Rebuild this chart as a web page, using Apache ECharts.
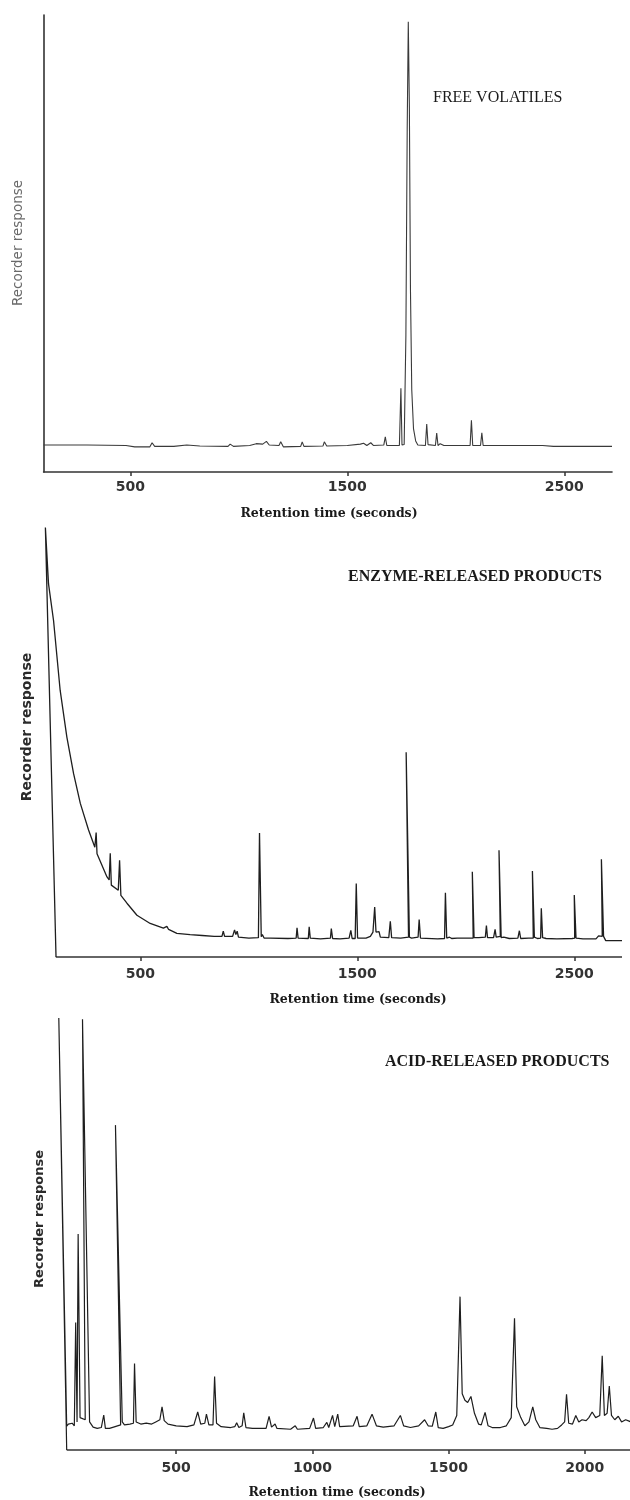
<!DOCTYPE html>
<html>
<head>
<meta charset="utf-8">
<title>Gas chromatograms</title>
<script src="https://cdn.jsdelivr.net/npm/echarts@6.0.0/dist/echarts.min.js"></script>
<style>
  html, body { margin: 0; padding: 0; background: #fff; }
  #chart { width: 630px; height: 1500px; }
</style>
</head>
<body>
<div id="chart"></div>
<script>
// Free volatiles: retention time (s) and recorder response (% of full scale)
const freeTime = [100, 300, 480, 520, 590, 600, 612, 700, 760, 820, 950, 960, 975, 1050, 1080, 1110, 1127, 1140,
  1185, 1193, 1205, 1285, 1292, 1300, 1388, 1394, 1405, 1500, 1560, 1575, 1590, 1608, 1620, 1668, 1675, 1682,
  1740, 1747, 1752, 1762, 1770, 1776, 1781, 1786, 1791, 1797, 1805, 1815, 1825, 1860, 1866, 1872, 1906, 1912,
  1918, 1928, 1945, 2066, 2072, 2078, 2114, 2120, 2126, 2400, 2450, 2720];
const freeResp = [5.9, 5.9, 5.8, 5.5, 5.5, 6.4, 5.6, 5.6, 5.9, 5.7, 5.6, 6.1, 5.6, 5.8, 6.2, 6.1, 6.7, 5.9,
  5.8, 6.6, 5.5, 5.6, 6.6, 5.6, 5.7, 6.6, 5.7, 5.8, 6.1, 6.3, 5.8, 6.4, 5.8, 5.9, 7.7, 5.8,
  5.8, 18.3, 5.9, 6.0, 30, 75, 98.5, 80, 40, 18, 9.5, 6.8, 5.9, 5.8, 10.5, 6.0, 5.8, 8.5,
  5.8, 6.2, 5.8, 5.8, 11.3, 5.8, 5.8, 8.6, 5.8, 5.8, 5.6, 5.6];

// Enzyme-released products (solvent front, decay, then peaks)
const enzymeTime = [111, 62, 76.5, 99.6, 130, 161, 192, 223, 261, 290, 296, 300, 346, 356, 361, 366, 398, 404,
  410, 438, 484, 545, 606, 622, 630, 668, 729, 785, 840, 876, 882, 888, 925, 934, 940, 946, 952, 1000,
  1044, 1049, 1057, 1062, 1070, 1100, 1180, 1218, 1222, 1227, 1274, 1278, 1283, 1330, 1376, 1380, 1386,
  1420, 1462, 1470, 1476, 1490, 1495, 1501, 1540, 1560, 1572, 1580, 1586, 1592, 1600, 1606, 1645, 1652,
  1658, 1700, 1736, 1725, 1740, 1750, 1780, 1785, 1791, 1870, 1902, 1906, 1912, 1925, 1935, 1960, 2034,
  2030, 2038, 2060, 2090, 2095, 2100, 2128, 2135, 2140, 2159, 2153, 2163, 2175, 2200, 2240, 2247, 2253,
  2290, 2311, 2307, 2316, 2330, 2345, 2348, 2354, 2370, 2420, 2490, 2502, 2500, 2508, 2540, 2600, 2612,
  2618, 2629, 2625, 2635, 2645, 2720];
const enzymeResp = [0, 99.8, 86.7, 78.2, 62, 51.1, 42.6, 35.7, 29.5, 25.5, 28.9, 24.0, 18.6, 17.9, 24.1, 16.7, 15.5, 22.5,
  14.3, 12.5, 9.7, 7.8, 6.7, 7.1, 6.4, 5.5, 5.2, 5.0, 4.8, 4.8, 6.0, 4.8, 4.8, 6.3, 5.2, 6.0, 4.6, 4.4,
  4.5, 28.8, 4.7, 5.2, 4.4, 4.4, 4.3, 4.4, 6.8, 4.4, 4.3, 7.0, 4.4, 4.2, 4.4, 6.6, 4.3,
  4.2, 4.4, 6.2, 4.3, 4.3, 17.1, 4.4, 4.4, 4.8, 5.8, 11.6, 5.8, 5.4, 5.9, 4.6, 4.5, 8.3,
  4.5, 4.4, 4.6, 47.6, 4.6, 4.4, 4.6, 8.7, 4.4, 4.2, 4.3, 14.9, 4.4, 4.6, 4.3, 4.4, 4.4,
  19.8, 4.5, 4.5, 4.6, 7.3, 4.5, 4.5, 6.4, 4.6, 4.8, 24.8, 4.5, 4.6, 4.3, 4.4, 6.1, 4.3,
  4.4, 4.4, 20.0, 4.6, 4.3, 4.4, 11.3, 4.5, 4.3, 4.2, 4.3, 4.4, 14.4, 4.4, 4.2, 4.2, 4.9,
  4.6, 4.8, 22.7, 4.8, 3.8, 3.8];

// Acid-released products
const acidTime = [98, 69, 98, 104, 110, 118, 126, 129, 131, 136, 138, 140, 147, 166, 172, 156, 182, 195, 210,
  225, 231, 234, 240, 255, 270, 296, 277, 302, 310, 330, 343, 347, 353, 370, 390, 410, 425, 440, 448,
  456, 470, 500, 540, 565, 579, 590, 605, 611, 620, 635, 641, 648, 665, 700, 715, 722, 730, 742, 748,
  756, 780, 830, 841, 850, 863, 870, 920, 937, 945, 990, 1004, 1012, 1040, 1053, 1060, 1074, 1082, 1093,
  1100, 1150, 1164, 1172, 1200, 1219, 1235, 1260, 1300, 1323, 1335, 1360, 1390, 1412, 1425, 1440, 1453,
  1462, 1480, 1500, 1515, 1530, 1542, 1550, 1560, 1570, 1582, 1595, 1610, 1620, 1634, 1645, 1660, 1690,
  1712, 1730, 1742, 1750, 1765, 1780, 1795, 1809, 1820, 1835, 1860, 1880, 1900, 1915, 1926, 1933, 1941,
  1955, 1967, 1978, 1990, 2005, 2015, 2027, 2040, 2055, 2064, 2072, 2082, 2090, 2098, 2110, 2123, 2135,
  2150, 2170];
const acidResp = [0, 100, 5.5, 6.0, 5.6, 6.2, 5.6, 5.8, 29.5, 6.5, 6.5, 50, 7.5, 7.0, 7.2, 99.7, 6.5, 5.3, 5.0,
  5.2, 5.5, 8.1, 5.0, 5.0, 5.3, 5.8, 75.2, 6.5, 5.8, 6.0, 6.2, 20, 6.5, 6.0, 6.2, 6.0, 6.5, 7.0, 10.0,
  6.8, 6.0, 5.6, 5.4, 5.8, 8.8, 6.0, 6.2, 8.3, 5.8, 5.8, 17.0, 6.2, 5.4, 5.2, 5.4, 6.3, 5.2, 5.6, 8.6,
  5.2, 5.0, 5.0, 7.8, 5.3, 6.0, 5.0, 4.8, 5.6, 4.8, 5.0, 7.4, 5.0, 5.2, 6.4, 5.2, 8.0, 5.4, 8.3,
  5.4, 5.6, 7.8, 5.4, 5.6, 8.3, 5.6, 5.3, 5.6, 8.0, 5.6, 5.2, 5.6, 7.0, 5.6, 5.5, 8.8,
  5.2, 5.0, 5.4, 5.8, 8.0, 35.5, 13.0, 11.5, 11.0, 12.4, 8.5, 6.0, 5.8, 8.7, 5.6, 5.2, 5.2,
  5.6, 7.5, 30.5, 10.0, 7.5, 5.6, 6.5, 10.0, 7.0, 5.2, 5.0, 4.8, 5.0, 5.8, 6.5, 12.9, 6.2,
  6.0, 8.0, 6.5, 7.0, 6.8, 7.5, 8.8, 7.5, 8.0, 21.8, 8.0, 8.5, 14.8, 8.0, 7.0, 7.8, 6.5,
  7.0, 6.5];

// Time span covered by the drawn time axis of each trace
const freeAxisSpan = [100, 2720];
const enzymeAxisSpan = [110, 2720];
const acidAxisSpan = [98, 2170];

// Labelled retention times on each axis
const freeTicks = [500, 1500, 2500];
const enzymeTicks = [500, 1500, 2500];
const acidTicks = [500, 1000, 1500, 2000];

const panelNames = ['FREE VOLATILES', 'ENZYME-RELEASED PRODUCTS', 'ACID-RELEASED PRODUCTS'];
const xTitle = 'Retention time (seconds)';
const yTitle = 'Recorder response';

function pairs(t, r) { return t.map((x, i) => [x, r[i]]); }

// Plot areas; the lower two leave room on the left for the solvent front
const grids = [
  { left: 43.6, top: 15, width: 568.4, height: 457 },
  { left: 43.87, top: 526.7, width: 578.13, height: 430.3 },
  { left: 56.35, top: 1018, width: 573.65, height: 432 }
];
const xRanges = [[100, 2720], [55, 2720], [60, 2166]];
const tickSets = [freeTicks, enzymeTicks, acidTicks];
const axisSpans = [freeAxisSpan, enzymeAxisSpan, acidAxisSpan];
const labelMargins = [8, 10, 11];
const traces = [pairs(freeTime, freeResp), pairs(enzymeTime, enzymeResp), pairs(acidTime, acidResp)];
const traceColors = ['#3a3a3a', '#1e1e1e', '#1e1e1e'];
const traceWidths = [1.1, 1.3, 1.2];
const axisColor = '#333';

// Positions of the free-standing texts
const panelNamePos = [[433, 98, 'normal'], [348, 577, 'bold'], [385, 1062, 'bold']];
const xTitlePos = [[329, 514], [358, 1000], [337, 1493]];
const yTitlePos = [[18.5, 243, 'normal', 13.5, '#6a6a6a'], [27.5, 727, 'bold', 14, '#2a2a2a'], [40, 1219, 'bold', 13, '#2a2a2a']];

const graphics = [];
panelNamePos.forEach((p, i) => {
  graphics.push({
    type: 'text', x: p[0], y: p[1], silent: true,
    style: {
      text: panelNames[i], fill: '#1a1a1a',
      font: p[2] + ' 16px "Liberation Serif"',
      align: 'left', verticalAlign: 'middle', textAlign: 'left', textVerticalAlign: 'middle'
    }
  });
});
xTitlePos.forEach(p => {
  graphics.push({
    type: 'text', x: p[0], y: p[1], silent: true,
    style: {
      text: xTitle, fill: '#1a1a1a',
      font: 'bold 12.5px "DejaVu Serif"',
      align: 'center', verticalAlign: 'middle', textAlign: 'center', textVerticalAlign: 'middle'
    }
  });
});
yTitlePos.forEach(p => {
  graphics.push({
    type: 'text', x: p[0], y: p[1], rotation: Math.PI / 2, silent: true,
    style: {
      text: yTitle, fill: p[4],
      font: p[2] + ' ' + p[3] + 'px "DejaVu Sans"',
      align: 'center', verticalAlign: 'middle', textAlign: 'center', textVerticalAlign: 'middle'
    }
  });
});

const series = traces.map((d, i) => ({
  type: 'line', xAxisIndex: i, yAxisIndex: i, data: d,
  symbol: 'none', showSymbol: false, clip: false, smooth: false,
  lineStyle: { color: traceColors[i], width: traceWidths[i] },
  emphasis: { disabled: true }, silent: true, z: 3
}));
// Time axis rules of the lower two panels start where the trace baseline starts
[1, 2].forEach(i => {
  series.push({
    type: 'line', xAxisIndex: i, yAxisIndex: i,
    data: [[axisSpans[i][0], 0], [axisSpans[i][1], 0]],
    symbol: 'none', showSymbol: false, clip: false,
    lineStyle: { color: axisColor, width: 1.6 },
    emphasis: { disabled: true }, silent: true, z: 2
  });
});

const chart = echarts.init(document.getElementById('chart'), null, { renderer: 'canvas' });
chart.setOption({
  animation: false,
  backgroundColor: '#ffffff',
  grid: grids,
  xAxis: grids.map((g, i) => ({
    type: 'value', gridIndex: i, min: xRanges[i][0], max: xRanges[i][1],
    axisLine: { show: i === 0, onZero: false, lineStyle: { color: axisColor, width: 1.6 } },
    axisTick: { show: true, inside: false, length: 4, customValues: tickSets[i], lineStyle: { color: axisColor, width: 1.5 } },
    axisLabel: {
      show: true, customValues: tickSets[i], margin: labelMargins[i],
      formatter: v => String(v),
      fontFamily: 'DejaVu Sans', fontWeight: 'bold', fontSize: 14, color: '#333'
    },
    splitLine: { show: false }
  })),
  yAxis: grids.map((g, i) => ({
    type: 'value', gridIndex: i, min: 0, max: 100,
    axisLine: { show: i === 0, onZero: false, lineStyle: { color: axisColor, width: 1.6 } },
    axisTick: { show: false },
    axisLabel: { show: false },
    splitLine: { show: false }
  })),
  series: series,
  graphic: graphics
});
</script>
</body>
</html>
